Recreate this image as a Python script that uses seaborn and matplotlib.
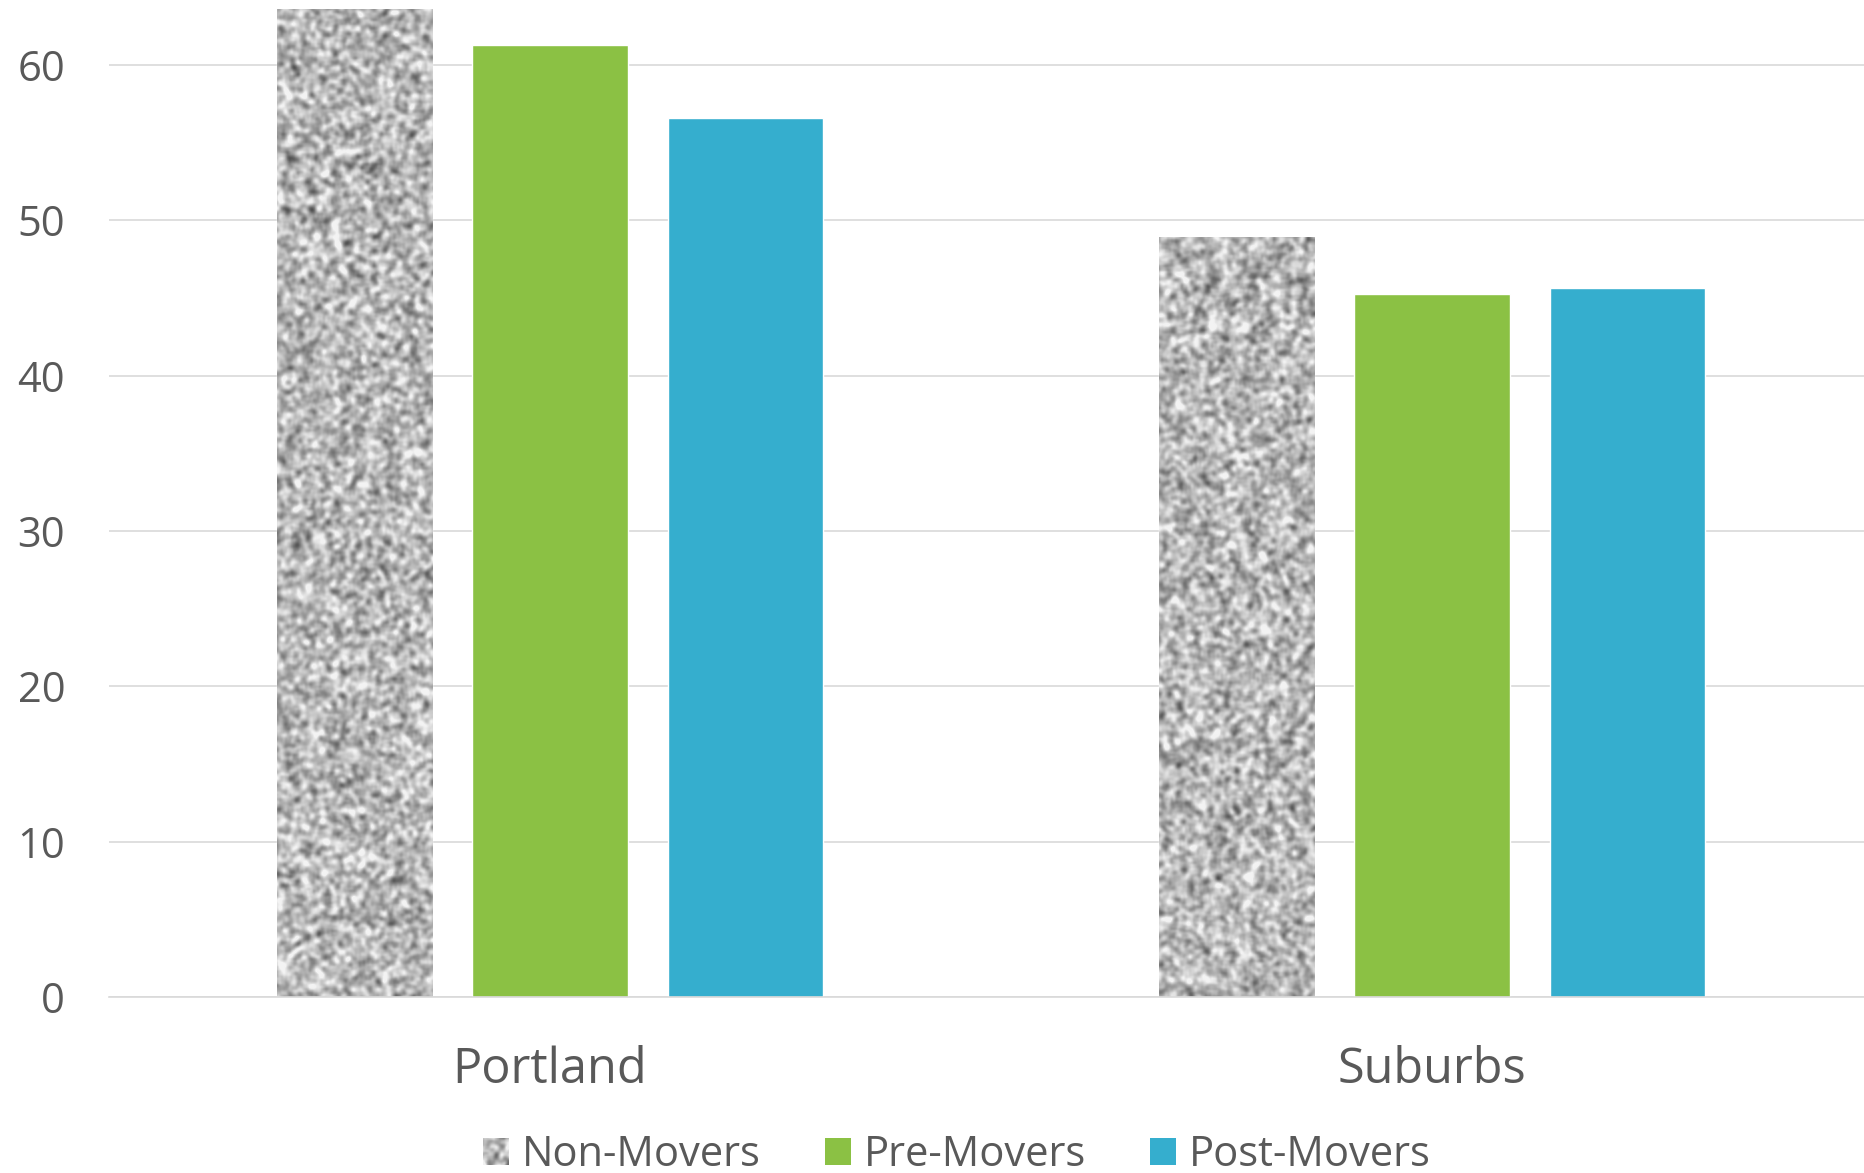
import numpy as np
import pandas as pd
import matplotlib
matplotlib.use("Agg")
import matplotlib.pyplot as plt
from matplotlib.patches import Patch
import seaborn as sns

# Data
regions = ["Portland", "Suburbs"]
groups = ["Non-Movers", "Pre-Movers", "Post-Movers"]
non_movers = [63.6, 48.9]
pre_movers = [61.3, 45.25]
post_movers = [56.6, 45.65]
y_ticks = [0, 10, 20, 30, 40, 50, 60]

colors = {"Non-Movers": "#b4b4b4", "Pre-Movers": "#8bc144", "Post-Movers": "#35aece"}
text_color = "#595959"
grid_color = "#d9d9d9"

df = pd.DataFrame({
    "region": regions * 3,
    "group": [g for g in groups for _ in regions],
    "value": non_movers + pre_movers + post_movers,
})

sns.set_style("white")
plt.rcParams["font.family"] = ["Open Sans", "DejaVu Sans"]

DPI = 100
W, H = 1865, 1173
fig = plt.figure(figsize=(W / DPI, H / DPI), dpi=DPI)
ax = fig.add_axes([109 / W, 176 / H, 1764 / W, 997 / H])

sns.barplot(data=df, x="region", y="value", hue="group", order=regions,
            hue_order=groups, palette=colors, saturation=1, width=0.665,
            gap=0.205, legend=False, ax=ax)


def _box(a):
    return sum(np.roll(np.roll(a, dy, 0), dx, 1)
               for dy in (-1, 0, 1) for dx in (-1, 0, 1)) / 9.0


def speckle(h, w, seed):
    """Grey mottled stone-like texture."""
    rng = np.random.default_rng(seed)
    hh, ww = h // 2 + 8, w // 2 + 8
    a = rng.random((hh, ww))
    a = _box(a)
    a = np.kron(a, np.ones((2, 2)))
    for _ in range(2):
        a = _box(a)
    a = a[8:8 + h, 8:8 + w]
    t = (a - a.mean()) / a.std()
    return np.clip(0.72 + 0.11 * t, 0.25, 0.95)


ymax = 64.19
px_per_unit = 997 / ymax
for k, bar in enumerate(ax.containers[0]):
    x0, w, h = bar.get_x(), bar.get_width(), bar.get_height()
    tex = speckle(int(h * px_per_unit), 156, 11 + k)
    ax.imshow(tex, extent=(x0, x0 + w, 0, h), aspect="auto", cmap="gray",
              vmin=0, vmax=1, interpolation="bilinear", clip_path=bar,
              zorder=bar.get_zorder() + 0.1)

ax.set_xlim(-0.5, 1.5)
ax.set_ylim(0, ymax)
ax.set_yticks(y_ticks)
ax.set_xlabel("")
ax.set_ylabel("")

ax.yaxis.grid(True, color=grid_color, lw=1.2)
ax.set_axisbelow(True)
for side in ("top", "right", "left"):
    ax.spines[side].set_visible(False)
ax.spines["bottom"].set_color(grid_color)
ax.spines["bottom"].set_linewidth(1.2)

ax.tick_params(axis="y", length=0, pad=31.5, labelsize=30, labelcolor=text_color)
ax.tick_params(axis="x", length=0, pad=35, labelsize=35, labelcolor=text_color)

handles = [Patch(facecolor=colors[g], edgecolor="none") for g in groups]
leg = fig.legend(handles, groups, loc="center", bbox_to_anchor=(957 / W, 1 - 1155 / H),
                 ncol=3, frameon=False, fontsize=30, handlelength=0.62,
                 handleheight=0.62, handletextpad=0.3, columnspacing=1.55,
                 labelcolor=text_color)

# Put the speckled swatch on the Non-Movers legend key
fig.canvas.draw()
bb = leg.legend_handles[0].get_window_extent()
sw = speckle(int(round(bb.height)), int(round(bb.width)), 3)
sw_rgb = np.dstack([sw, sw, sw])
fig.figimage(sw_rgb, xo=int(round(bb.x0)), yo=int(round(bb.y0)), zorder=10)

fig.savefig("out.png", dpi=DPI, facecolor="white")
